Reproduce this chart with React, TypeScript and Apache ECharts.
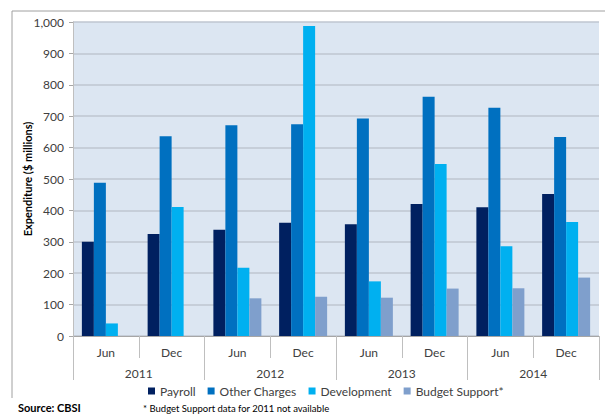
import React, { useEffect, useRef } from "react";
import * as echarts from "echarts";

const periods = ["Jun", "Dec", "Jun", "Dec", "Jun", "Dec", "Jun", "Dec"];
const years = ["2011", "2012", "2013", "2014"];
const yTicks = [0, 1000, 100];
const payroll = [300, 325, 338, 361, 356, 420, 410, 452];
const otherCharges = [488, 636, 671, 674, 693, 762, 727, 634];
const development = [40, 411, 217, 987, 174, 548, 286, 363];
const budgetSupport = [null, null, 120, 125, 122, 151, 152, 186];

const FONT = "Lato, 'Liberation Sans', sans-serif";
const TEXT = "#404040";

export default function App() {
  const ref = useRef<HTMLDivElement>(null);
  useEffect(() => {
    if (!ref.current) return;
    document.body.style.margin = "0";
    const chart = echarts.init(ref.current, undefined, { renderer: "svg" });
    const mk = (name: string, data: (number | null)[], color: string) => ({
      name,
      type: "bar",
      data,
      xAxisIndex: 0,
      barGap: "0%",
      barCategoryGap: "27%",
      itemStyle: { color },
    });
    chart.setOption({
      animation: false,
      textStyle: { fontFamily: FONT },
      grid: {
        left: 73,
        top: 22,
        right: 6,
        bottom: 78,
        show: true,
        backgroundColor: "#DCE6F2",
        borderWidth: 0,
      },
      legend: {
        bottom: 12,
        left: 143,
        itemWidth: 7,
        itemHeight: 7,
        itemGap: 12,
        icon: "rect",
        textStyle: { fontSize: 12, color: TEXT, fontFamily: FONT },
        data: ["Payroll", "Other Charges", "Development", "Budget Support*"],
      },
      xAxis: [
        {
          type: "category",
          data: periods,
          position: "bottom",
          axisLine: { show: true, lineStyle: { color: "#A6A6A6", width: 1 } },
          axisTick: { show: true, length: 22, interval: 0, lineStyle: { color: "#BFBFBF" } },
          axisLabel: { color: TEXT, fontSize: 12, margin: 10 },
          splitLine: { show: false },
        },
        {
          type: "category",
          data: years,
          position: "bottom",
          axisLine: { show: false },
          axisTick: { show: true, length: 44, interval: 0, lineStyle: { color: "#BFBFBF" } },
          axisLabel: { color: TEXT, fontSize: 12, margin: 31 },
          splitLine: { show: false },
        },
      ],
      yAxis: {
        type: "value",
        min: yTicks[0],
        max: yTicks[1],
        interval: yTicks[2],
        name: "Expenditure ($ millions)",
        nameLocation: "middle",
        nameGap: 40,
        nameMoveOverlap: false,
        nameTextStyle: { fontSize: 11, fontWeight: "bold", color: "#000", fontFamily: FONT },
        axisLine: { show: true, lineStyle: { color: "#BFBFBF" } },
        axisTick: { show: true, length: 4, lineStyle: { color: "#A6A6A6" } },
        axisLabel: {
          color: TEXT,
          fontSize: 12,
          margin: 9,
          formatter: (v: number) => v.toLocaleString("en-US"),
        },
        splitLine: { lineStyle: { color: "#BFC6D1", width: 1.5 } },
      },
      series: [
        mk("Payroll", payroll, "#002060"),
        mk("Other Charges", otherCharges, "#0070C0"),
        mk("Development", development, "#00B0F0"),
        mk("Budget Support*", budgetSupport, "#7F9FCC"),
      ],
      graphic: [
        { type: "line", shape: { x1: 12, y1: 11, x2: 605, y2: 11 }, style: { stroke: "#A0A0A0", lineWidth: 1 } },
        { type: "line", shape: { x1: 12, y1: 11, x2: 12, y2: 398 }, style: { stroke: "#A0A0A0", lineWidth: 1 } },
        {
          type: "text",
          left: 18,
          top: 402,
          style: { text: "Source: CBSI", font: `bold 11px ${FONT}`, fill: "#000" },
        },
        {
          type: "text",
          left: 143,
          top: 403,
          style: { text: "* Budget Support data for 2011 not available", font: `9.5px ${FONT}`, fill: "#000" },
        },
      ],
    });
    return () => chart.dispose();
  }, []);
  return <div ref={ref} style={{ width: 605, height: 414 }} />;
}
